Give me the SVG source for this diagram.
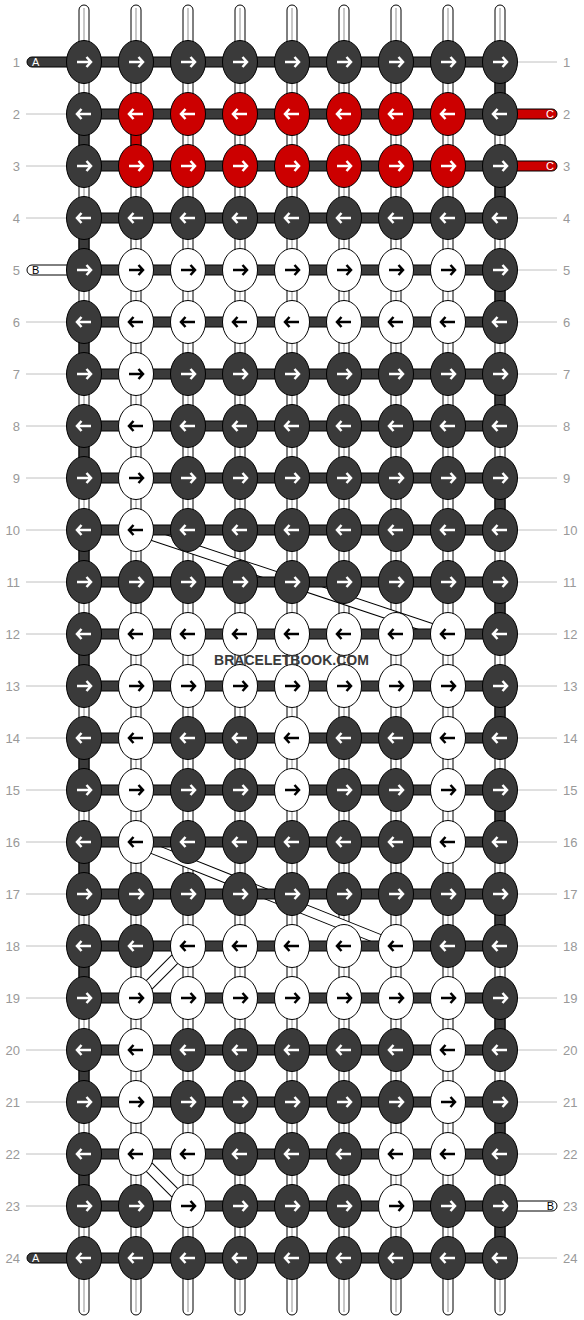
<svg xmlns="http://www.w3.org/2000/svg" xmlns:xlink="http://www.w3.org/1999/xlink" width="584" height="1320" viewBox="0 0 584 1320">
<style>
.vw{fill:#fff;stroke:#000;stroke-width:1}
.vc{stroke:#c8c8c8;stroke-width:2}
.vd{fill:#3a3a3a;stroke:#000;stroke-width:1}
.vr{fill:#cc0000;stroke:#000;stroke-width:1}
.hd{fill:#3a3a3a;stroke:#000;stroke-width:1}
.dgo{stroke:#000;stroke-width:11;stroke-linecap:butt}
.dgi{stroke:#fff;stroke-width:9;stroke-linecap:butt}
.gl{stroke:#c0c0c0;stroke-width:1}
.num{font-family:"Liberation Sans",Arial,sans-serif;font-size:13px;fill:#999}
.lab{font-family:"Liberation Sans",Arial,sans-serif;font-size:11px}
.D{fill:#3a3a3a;stroke:#fff}
.Rd{fill:#cc0000;stroke:#fff}
.W{fill:#fff;stroke:#000}
.wm{font-family:"Liberation Sans",Arial,sans-serif;font-size:14px;font-weight:bold;fill:#3a3a3a}
</style>
<defs>
<ellipse id="e" rx="17.5" ry="21.5" stroke="#000" stroke-width="1"/>
<path id="R" d="M-7 0H7M2.5-5L7 0L2.5 5" fill="none" stroke-width="2.5"/>
<path id="L" d="M7 0H-7M-2.5-5L-7 0L-2.5 5" fill="none" stroke-width="2.5"/>
</defs>
<rect width="584" height="1320" fill="#fff"/>
<g id="guides">
<line class="gl" x1="26" y1="114" x2="84" y2="114"/><line class="gl" x1="26" y1="166" x2="84" y2="166"/><line class="gl" x1="26" y1="218" x2="84" y2="218"/><line class="gl" x1="26" y1="322" x2="84" y2="322"/><line class="gl" x1="26" y1="374" x2="84" y2="374"/><line class="gl" x1="26" y1="426" x2="84" y2="426"/><line class="gl" x1="26" y1="478" x2="84" y2="478"/><line class="gl" x1="26" y1="530" x2="84" y2="530"/><line class="gl" x1="26" y1="582" x2="84" y2="582"/><line class="gl" x1="26" y1="634" x2="84" y2="634"/><line class="gl" x1="26" y1="686" x2="84" y2="686"/><line class="gl" x1="26" y1="738" x2="84" y2="738"/><line class="gl" x1="26" y1="790" x2="84" y2="790"/><line class="gl" x1="26" y1="842" x2="84" y2="842"/><line class="gl" x1="26" y1="894" x2="84" y2="894"/><line class="gl" x1="26" y1="946" x2="84" y2="946"/><line class="gl" x1="26" y1="998" x2="84" y2="998"/><line class="gl" x1="26" y1="1050" x2="84" y2="1050"/><line class="gl" x1="26" y1="1102" x2="84" y2="1102"/><line class="gl" x1="26" y1="1154" x2="84" y2="1154"/><line class="gl" x1="26" y1="1206" x2="84" y2="1206"/>
<line class="gl" x1="500" y1="62" x2="557" y2="62"/><line class="gl" x1="500" y1="218" x2="557" y2="218"/><line class="gl" x1="500" y1="270" x2="557" y2="270"/><line class="gl" x1="500" y1="322" x2="557" y2="322"/><line class="gl" x1="500" y1="374" x2="557" y2="374"/><line class="gl" x1="500" y1="426" x2="557" y2="426"/><line class="gl" x1="500" y1="478" x2="557" y2="478"/><line class="gl" x1="500" y1="530" x2="557" y2="530"/><line class="gl" x1="500" y1="582" x2="557" y2="582"/><line class="gl" x1="500" y1="634" x2="557" y2="634"/><line class="gl" x1="500" y1="686" x2="557" y2="686"/><line class="gl" x1="500" y1="738" x2="557" y2="738"/><line class="gl" x1="500" y1="790" x2="557" y2="790"/><line class="gl" x1="500" y1="842" x2="557" y2="842"/><line class="gl" x1="500" y1="894" x2="557" y2="894"/><line class="gl" x1="500" y1="946" x2="557" y2="946"/><line class="gl" x1="500" y1="998" x2="557" y2="998"/><line class="gl" x1="500" y1="1050" x2="557" y2="1050"/><line class="gl" x1="500" y1="1102" x2="557" y2="1102"/><line class="gl" x1="500" y1="1154" x2="557" y2="1154"/><line class="gl" x1="500" y1="1258" x2="557" y2="1258"/>
</g>
<g id="rownumbers">
<g class="num" text-anchor="end">
<text x="20" y="66.5">1</text><text x="20" y="118.5">2</text><text x="20" y="170.5">3</text><text x="20" y="222.5">4</text><text x="20" y="274.5">5</text><text x="20" y="326.5">6</text><text x="20" y="378.5">7</text><text x="20" y="430.5">8</text><text x="20" y="482.5">9</text><text x="20" y="534.5">10</text><text x="20" y="586.5">11</text><text x="20" y="638.5">12</text><text x="20" y="690.5">13</text><text x="20" y="742.5">14</text><text x="20" y="794.5">15</text><text x="20" y="846.5">16</text><text x="20" y="898.5">17</text><text x="20" y="950.5">18</text><text x="20" y="1002.5">19</text><text x="20" y="1054.5">20</text><text x="20" y="1106.5">21</text><text x="20" y="1158.5">22</text><text x="20" y="1210.5">23</text><text x="20" y="1262.5">24</text>
</g>
<g class="num">
<text x="563" y="66.5">1</text><text x="563" y="118.5">2</text><text x="563" y="170.5">3</text><text x="563" y="222.5">4</text><text x="563" y="274.5">5</text><text x="563" y="326.5">6</text><text x="563" y="378.5">7</text><text x="563" y="430.5">8</text><text x="563" y="482.5">9</text><text x="563" y="534.5">10</text><text x="563" y="586.5">11</text><text x="563" y="638.5">12</text><text x="563" y="690.5">13</text><text x="563" y="742.5">14</text><text x="563" y="794.5">15</text><text x="563" y="846.5">16</text><text x="563" y="898.5">17</text><text x="563" y="950.5">18</text><text x="563" y="1002.5">19</text><text x="563" y="1054.5">20</text><text x="563" y="1106.5">21</text><text x="563" y="1158.5">22</text><text x="563" y="1210.5">23</text><text x="563" y="1262.5">24</text>
</g>
</g>
<g id="connectors">
<g id="verticals">
<rect class="vw" x="79" y="5" width="10" height="1310" rx="5"/><line class="vc" x1="84" y1="8" x2="84" y2="1312"/>
<rect class="vw" x="131" y="5" width="10" height="1310" rx="5"/><line class="vc" x1="136" y1="8" x2="136" y2="1312"/>
<rect class="vw" x="183" y="5" width="10" height="1310" rx="5"/><line class="vc" x1="188" y1="8" x2="188" y2="1312"/>
<rect class="vw" x="235" y="5" width="10" height="1310" rx="5"/><line class="vc" x1="240" y1="8" x2="240" y2="1312"/>
<rect class="vw" x="287" y="5" width="10" height="1310" rx="5"/><line class="vc" x1="292" y1="8" x2="292" y2="1312"/>
<rect class="vw" x="339" y="5" width="10" height="1310" rx="5"/><line class="vc" x1="344" y1="8" x2="344" y2="1312"/>
<rect class="vw" x="391" y="5" width="10" height="1310" rx="5"/><line class="vc" x1="396" y1="8" x2="396" y2="1312"/>
<rect class="vw" x="443" y="5" width="10" height="1310" rx="5"/><line class="vc" x1="448" y1="8" x2="448" y2="1312"/>
<rect class="vw" x="495" y="5" width="10" height="1310" rx="5"/><line class="vc" x1="500" y1="8" x2="500" y2="1312"/>
</g>
<g id="edge-segments">
<rect class="vd" x="79" y="114" width="10" height="52"/><rect class="vd" x="79" y="218" width="10" height="52"/><rect class="vd" x="79" y="322" width="10" height="52"/><rect class="vd" x="79" y="426" width="10" height="52"/><rect class="vd" x="79" y="530" width="10" height="52"/><rect class="vd" x="79" y="634" width="10" height="52"/><rect class="vd" x="79" y="738" width="10" height="52"/><rect class="vd" x="79" y="842" width="10" height="52"/><rect class="vd" x="79" y="946" width="10" height="52"/><rect class="vd" x="79" y="1050" width="10" height="52"/><rect class="vd" x="79" y="1154" width="10" height="52"/>
<rect class="vd" x="495" y="62" width="10" height="52"/><rect class="vd" x="495" y="166" width="10" height="52"/><rect class="vd" x="495" y="270" width="10" height="52"/><rect class="vd" x="495" y="374" width="10" height="52"/><rect class="vd" x="495" y="478" width="10" height="52"/><rect class="vd" x="495" y="582" width="10" height="52"/><rect class="vd" x="495" y="686" width="10" height="52"/><rect class="vd" x="495" y="790" width="10" height="52"/><rect class="vd" x="495" y="894" width="10" height="52"/><rect class="vd" x="495" y="998" width="10" height="52"/><rect class="vd" x="495" y="1102" width="10" height="52"/><rect class="vd" x="495" y="1206" width="10" height="52"/>
<rect class="vr" x="131" y="114" width="10" height="52"/>
</g>
<g id="diagonals">
<line class="dgo" x1="136" y1="530" x2="448" y2="634"/><line class="dgi" x1="136" y1="530" x2="448" y2="634"/>
<line class="dgo" x1="136" y1="842" x2="396" y2="946"/><line class="dgi" x1="136" y1="842" x2="396" y2="946"/>
<line class="dgo" x1="188" y1="946" x2="136" y2="998"/><line class="dgi" x1="188" y1="946" x2="136" y2="998"/>
<line class="dgo" x1="136" y1="1154" x2="188" y2="1206"/><line class="dgi" x1="136" y1="1154" x2="188" y2="1206"/>
</g>
<g id="horizontals">
<rect class="hd" x="84" y="57" width="416" height="10"/><rect class="hd" x="84" y="109" width="416" height="10"/><rect class="hd" x="84" y="161" width="416" height="10"/><rect class="hd" x="84" y="213" width="416" height="10"/><rect class="hd" x="84" y="265" width="416" height="10"/><rect class="hd" x="84" y="317" width="416" height="10"/><rect class="hd" x="84" y="369" width="416" height="10"/><rect class="hd" x="84" y="421" width="416" height="10"/><rect class="hd" x="84" y="473" width="416" height="10"/><rect class="hd" x="84" y="525" width="416" height="10"/><rect class="hd" x="84" y="577" width="416" height="10"/><rect class="hd" x="84" y="629" width="416" height="10"/><rect class="hd" x="84" y="681" width="416" height="10"/><rect class="hd" x="84" y="733" width="416" height="10"/><rect class="hd" x="84" y="785" width="416" height="10"/><rect class="hd" x="84" y="837" width="416" height="10"/><rect class="hd" x="84" y="889" width="416" height="10"/><rect class="hd" x="84" y="941" width="416" height="10"/><rect class="hd" x="84" y="993" width="416" height="10"/><rect class="hd" x="84" y="1045" width="416" height="10"/><rect class="hd" x="84" y="1097" width="416" height="10"/><rect class="hd" x="84" y="1149" width="416" height="10"/><rect class="hd" x="84" y="1201" width="416" height="10"/><rect class="hd" x="84" y="1253" width="416" height="10"/>
</g>
<g id="leads">
<g id="leadA1"><rect class="hd" x="27" y="57" width="60" height="10" rx="5"/><text class="lab" x="32" y="66" fill="#fff">A</text></g>
<g id="leadB5"><rect class="vw" x="27" y="265" width="60" height="10" rx="5"/><text class="lab" x="32" y="274" fill="#000">B</text></g>
<g id="leadA24"><rect class="hd" x="27" y="1253" width="60" height="10" rx="5"/><text class="lab" x="32" y="1262" fill="#fff">A</text></g>
<g id="leadC2"><rect class="vr" x="497" y="109" width="60" height="10" rx="5"/><text class="lab" x="554" y="118" fill="#fff" text-anchor="end">C</text></g>
<g id="leadC3"><rect class="vr" x="497" y="161" width="60" height="10" rx="5"/><text class="lab" x="554" y="170" fill="#fff" text-anchor="end">C</text></g>
<g id="leadB23"><rect class="vw" x="497" y="1201" width="60" height="10" rx="5"/><text class="lab" x="554" y="1210" fill="#000" text-anchor="end">B</text></g>
</g>
</g>
<g id="knots">
<g id="r1"><g id="k1-1" class="D" transform="translate(84 62)"><use href="#e"/><use href="#R"/></g><g id="k1-2" class="D" transform="translate(136 62)"><use href="#e"/><use href="#R"/></g><g id="k1-3" class="D" transform="translate(188 62)"><use href="#e"/><use href="#R"/></g><g id="k1-4" class="D" transform="translate(240 62)"><use href="#e"/><use href="#R"/></g><g id="k1-5" class="D" transform="translate(292 62)"><use href="#e"/><use href="#R"/></g><g id="k1-6" class="D" transform="translate(344 62)"><use href="#e"/><use href="#R"/></g><g id="k1-7" class="D" transform="translate(396 62)"><use href="#e"/><use href="#R"/></g><g id="k1-8" class="D" transform="translate(448 62)"><use href="#e"/><use href="#R"/></g><g id="k1-9" class="D" transform="translate(500 62)"><use href="#e"/><use href="#R"/></g></g>
<g id="r2"><g id="k2-1" class="D" transform="translate(84 114)"><use href="#e"/><use href="#L"/></g><g id="k2-2" class="Rd" transform="translate(136 114)"><use href="#e"/><use href="#L"/></g><g id="k2-3" class="Rd" transform="translate(188 114)"><use href="#e"/><use href="#L"/></g><g id="k2-4" class="Rd" transform="translate(240 114)"><use href="#e"/><use href="#L"/></g><g id="k2-5" class="Rd" transform="translate(292 114)"><use href="#e"/><use href="#L"/></g><g id="k2-6" class="Rd" transform="translate(344 114)"><use href="#e"/><use href="#L"/></g><g id="k2-7" class="Rd" transform="translate(396 114)"><use href="#e"/><use href="#L"/></g><g id="k2-8" class="Rd" transform="translate(448 114)"><use href="#e"/><use href="#L"/></g><g id="k2-9" class="D" transform="translate(500 114)"><use href="#e"/><use href="#L"/></g></g>
<g id="r3"><g id="k3-1" class="D" transform="translate(84 166)"><use href="#e"/><use href="#R"/></g><g id="k3-2" class="Rd" transform="translate(136 166)"><use href="#e"/><use href="#R"/></g><g id="k3-3" class="Rd" transform="translate(188 166)"><use href="#e"/><use href="#R"/></g><g id="k3-4" class="Rd" transform="translate(240 166)"><use href="#e"/><use href="#R"/></g><g id="k3-5" class="Rd" transform="translate(292 166)"><use href="#e"/><use href="#R"/></g><g id="k3-6" class="Rd" transform="translate(344 166)"><use href="#e"/><use href="#R"/></g><g id="k3-7" class="Rd" transform="translate(396 166)"><use href="#e"/><use href="#R"/></g><g id="k3-8" class="Rd" transform="translate(448 166)"><use href="#e"/><use href="#R"/></g><g id="k3-9" class="D" transform="translate(500 166)"><use href="#e"/><use href="#R"/></g></g>
<g id="r4"><g id="k4-1" class="D" transform="translate(84 218)"><use href="#e"/><use href="#L"/></g><g id="k4-2" class="D" transform="translate(136 218)"><use href="#e"/><use href="#L"/></g><g id="k4-3" class="D" transform="translate(188 218)"><use href="#e"/><use href="#L"/></g><g id="k4-4" class="D" transform="translate(240 218)"><use href="#e"/><use href="#L"/></g><g id="k4-5" class="D" transform="translate(292 218)"><use href="#e"/><use href="#L"/></g><g id="k4-6" class="D" transform="translate(344 218)"><use href="#e"/><use href="#L"/></g><g id="k4-7" class="D" transform="translate(396 218)"><use href="#e"/><use href="#L"/></g><g id="k4-8" class="D" transform="translate(448 218)"><use href="#e"/><use href="#L"/></g><g id="k4-9" class="D" transform="translate(500 218)"><use href="#e"/><use href="#L"/></g></g>
<g id="r5"><g id="k5-1" class="D" transform="translate(84 270)"><use href="#e"/><use href="#R"/></g><g id="k5-2" class="W" transform="translate(136 270)"><use href="#e"/><use href="#R"/></g><g id="k5-3" class="W" transform="translate(188 270)"><use href="#e"/><use href="#R"/></g><g id="k5-4" class="W" transform="translate(240 270)"><use href="#e"/><use href="#R"/></g><g id="k5-5" class="W" transform="translate(292 270)"><use href="#e"/><use href="#R"/></g><g id="k5-6" class="W" transform="translate(344 270)"><use href="#e"/><use href="#R"/></g><g id="k5-7" class="W" transform="translate(396 270)"><use href="#e"/><use href="#R"/></g><g id="k5-8" class="W" transform="translate(448 270)"><use href="#e"/><use href="#R"/></g><g id="k5-9" class="D" transform="translate(500 270)"><use href="#e"/><use href="#R"/></g></g>
<g id="r6"><g id="k6-1" class="D" transform="translate(84 322)"><use href="#e"/><use href="#L"/></g><g id="k6-2" class="W" transform="translate(136 322)"><use href="#e"/><use href="#L"/></g><g id="k6-3" class="W" transform="translate(188 322)"><use href="#e"/><use href="#L"/></g><g id="k6-4" class="W" transform="translate(240 322)"><use href="#e"/><use href="#L"/></g><g id="k6-5" class="W" transform="translate(292 322)"><use href="#e"/><use href="#L"/></g><g id="k6-6" class="W" transform="translate(344 322)"><use href="#e"/><use href="#L"/></g><g id="k6-7" class="W" transform="translate(396 322)"><use href="#e"/><use href="#L"/></g><g id="k6-8" class="W" transform="translate(448 322)"><use href="#e"/><use href="#L"/></g><g id="k6-9" class="D" transform="translate(500 322)"><use href="#e"/><use href="#L"/></g></g>
<g id="r7"><g id="k7-1" class="D" transform="translate(84 374)"><use href="#e"/><use href="#R"/></g><g id="k7-2" class="W" transform="translate(136 374)"><use href="#e"/><use href="#R"/></g><g id="k7-3" class="D" transform="translate(188 374)"><use href="#e"/><use href="#R"/></g><g id="k7-4" class="D" transform="translate(240 374)"><use href="#e"/><use href="#R"/></g><g id="k7-5" class="D" transform="translate(292 374)"><use href="#e"/><use href="#R"/></g><g id="k7-6" class="D" transform="translate(344 374)"><use href="#e"/><use href="#R"/></g><g id="k7-7" class="D" transform="translate(396 374)"><use href="#e"/><use href="#R"/></g><g id="k7-8" class="D" transform="translate(448 374)"><use href="#e"/><use href="#R"/></g><g id="k7-9" class="D" transform="translate(500 374)"><use href="#e"/><use href="#R"/></g></g>
<g id="r8"><g id="k8-1" class="D" transform="translate(84 426)"><use href="#e"/><use href="#L"/></g><g id="k8-2" class="W" transform="translate(136 426)"><use href="#e"/><use href="#L"/></g><g id="k8-3" class="D" transform="translate(188 426)"><use href="#e"/><use href="#L"/></g><g id="k8-4" class="D" transform="translate(240 426)"><use href="#e"/><use href="#L"/></g><g id="k8-5" class="D" transform="translate(292 426)"><use href="#e"/><use href="#L"/></g><g id="k8-6" class="D" transform="translate(344 426)"><use href="#e"/><use href="#L"/></g><g id="k8-7" class="D" transform="translate(396 426)"><use href="#e"/><use href="#L"/></g><g id="k8-8" class="D" transform="translate(448 426)"><use href="#e"/><use href="#L"/></g><g id="k8-9" class="D" transform="translate(500 426)"><use href="#e"/><use href="#L"/></g></g>
<g id="r9"><g id="k9-1" class="D" transform="translate(84 478)"><use href="#e"/><use href="#R"/></g><g id="k9-2" class="W" transform="translate(136 478)"><use href="#e"/><use href="#R"/></g><g id="k9-3" class="D" transform="translate(188 478)"><use href="#e"/><use href="#R"/></g><g id="k9-4" class="D" transform="translate(240 478)"><use href="#e"/><use href="#R"/></g><g id="k9-5" class="D" transform="translate(292 478)"><use href="#e"/><use href="#R"/></g><g id="k9-6" class="D" transform="translate(344 478)"><use href="#e"/><use href="#R"/></g><g id="k9-7" class="D" transform="translate(396 478)"><use href="#e"/><use href="#R"/></g><g id="k9-8" class="D" transform="translate(448 478)"><use href="#e"/><use href="#R"/></g><g id="k9-9" class="D" transform="translate(500 478)"><use href="#e"/><use href="#R"/></g></g>
<g id="r10"><g id="k10-1" class="D" transform="translate(84 530)"><use href="#e"/><use href="#L"/></g><g id="k10-2" class="W" transform="translate(136 530)"><use href="#e"/><use href="#L"/></g><g id="k10-3" class="D" transform="translate(188 530)"><use href="#e"/><use href="#L"/></g><g id="k10-4" class="D" transform="translate(240 530)"><use href="#e"/><use href="#L"/></g><g id="k10-5" class="D" transform="translate(292 530)"><use href="#e"/><use href="#L"/></g><g id="k10-6" class="D" transform="translate(344 530)"><use href="#e"/><use href="#L"/></g><g id="k10-7" class="D" transform="translate(396 530)"><use href="#e"/><use href="#L"/></g><g id="k10-8" class="D" transform="translate(448 530)"><use href="#e"/><use href="#L"/></g><g id="k10-9" class="D" transform="translate(500 530)"><use href="#e"/><use href="#L"/></g></g>
<g id="r11"><g id="k11-1" class="D" transform="translate(84 582)"><use href="#e"/><use href="#R"/></g><g id="k11-2" class="D" transform="translate(136 582)"><use href="#e"/><use href="#R"/></g><g id="k11-3" class="D" transform="translate(188 582)"><use href="#e"/><use href="#R"/></g><g id="k11-4" class="D" transform="translate(240 582)"><use href="#e"/><use href="#R"/></g><g id="k11-5" class="D" transform="translate(292 582)"><use href="#e"/><use href="#R"/></g><g id="k11-6" class="D" transform="translate(344 582)"><use href="#e"/><use href="#R"/></g><g id="k11-7" class="D" transform="translate(396 582)"><use href="#e"/><use href="#R"/></g><g id="k11-8" class="D" transform="translate(448 582)"><use href="#e"/><use href="#R"/></g><g id="k11-9" class="D" transform="translate(500 582)"><use href="#e"/><use href="#R"/></g></g>
<g id="r12"><g id="k12-1" class="D" transform="translate(84 634)"><use href="#e"/><use href="#L"/></g><g id="k12-2" class="W" transform="translate(136 634)"><use href="#e"/><use href="#L"/></g><g id="k12-3" class="W" transform="translate(188 634)"><use href="#e"/><use href="#L"/></g><g id="k12-4" class="W" transform="translate(240 634)"><use href="#e"/><use href="#L"/></g><g id="k12-5" class="W" transform="translate(292 634)"><use href="#e"/><use href="#L"/></g><g id="k12-6" class="W" transform="translate(344 634)"><use href="#e"/><use href="#L"/></g><g id="k12-7" class="W" transform="translate(396 634)"><use href="#e"/><use href="#L"/></g><g id="k12-8" class="W" transform="translate(448 634)"><use href="#e"/><use href="#L"/></g><g id="k12-9" class="D" transform="translate(500 634)"><use href="#e"/><use href="#L"/></g></g>
<g id="r13"><g id="k13-1" class="D" transform="translate(84 686)"><use href="#e"/><use href="#R"/></g><g id="k13-2" class="W" transform="translate(136 686)"><use href="#e"/><use href="#R"/></g><g id="k13-3" class="W" transform="translate(188 686)"><use href="#e"/><use href="#R"/></g><g id="k13-4" class="W" transform="translate(240 686)"><use href="#e"/><use href="#R"/></g><g id="k13-5" class="W" transform="translate(292 686)"><use href="#e"/><use href="#R"/></g><g id="k13-6" class="W" transform="translate(344 686)"><use href="#e"/><use href="#R"/></g><g id="k13-7" class="W" transform="translate(396 686)"><use href="#e"/><use href="#R"/></g><g id="k13-8" class="W" transform="translate(448 686)"><use href="#e"/><use href="#R"/></g><g id="k13-9" class="D" transform="translate(500 686)"><use href="#e"/><use href="#R"/></g></g>
<g id="r14"><g id="k14-1" class="D" transform="translate(84 738)"><use href="#e"/><use href="#L"/></g><g id="k14-2" class="W" transform="translate(136 738)"><use href="#e"/><use href="#L"/></g><g id="k14-3" class="D" transform="translate(188 738)"><use href="#e"/><use href="#L"/></g><g id="k14-4" class="D" transform="translate(240 738)"><use href="#e"/><use href="#L"/></g><g id="k14-5" class="W" transform="translate(292 738)"><use href="#e"/><use href="#L"/></g><g id="k14-6" class="D" transform="translate(344 738)"><use href="#e"/><use href="#L"/></g><g id="k14-7" class="D" transform="translate(396 738)"><use href="#e"/><use href="#L"/></g><g id="k14-8" class="W" transform="translate(448 738)"><use href="#e"/><use href="#L"/></g><g id="k14-9" class="D" transform="translate(500 738)"><use href="#e"/><use href="#L"/></g></g>
<g id="r15"><g id="k15-1" class="D" transform="translate(84 790)"><use href="#e"/><use href="#R"/></g><g id="k15-2" class="W" transform="translate(136 790)"><use href="#e"/><use href="#R"/></g><g id="k15-3" class="D" transform="translate(188 790)"><use href="#e"/><use href="#R"/></g><g id="k15-4" class="D" transform="translate(240 790)"><use href="#e"/><use href="#R"/></g><g id="k15-5" class="W" transform="translate(292 790)"><use href="#e"/><use href="#R"/></g><g id="k15-6" class="D" transform="translate(344 790)"><use href="#e"/><use href="#R"/></g><g id="k15-7" class="D" transform="translate(396 790)"><use href="#e"/><use href="#R"/></g><g id="k15-8" class="W" transform="translate(448 790)"><use href="#e"/><use href="#R"/></g><g id="k15-9" class="D" transform="translate(500 790)"><use href="#e"/><use href="#R"/></g></g>
<g id="r16"><g id="k16-1" class="D" transform="translate(84 842)"><use href="#e"/><use href="#L"/></g><g id="k16-2" class="W" transform="translate(136 842)"><use href="#e"/><use href="#L"/></g><g id="k16-3" class="D" transform="translate(188 842)"><use href="#e"/><use href="#L"/></g><g id="k16-4" class="D" transform="translate(240 842)"><use href="#e"/><use href="#L"/></g><g id="k16-5" class="D" transform="translate(292 842)"><use href="#e"/><use href="#L"/></g><g id="k16-6" class="D" transform="translate(344 842)"><use href="#e"/><use href="#L"/></g><g id="k16-7" class="D" transform="translate(396 842)"><use href="#e"/><use href="#L"/></g><g id="k16-8" class="W" transform="translate(448 842)"><use href="#e"/><use href="#L"/></g><g id="k16-9" class="D" transform="translate(500 842)"><use href="#e"/><use href="#L"/></g></g>
<g id="r17"><g id="k17-1" class="D" transform="translate(84 894)"><use href="#e"/><use href="#R"/></g><g id="k17-2" class="D" transform="translate(136 894)"><use href="#e"/><use href="#R"/></g><g id="k17-3" class="D" transform="translate(188 894)"><use href="#e"/><use href="#R"/></g><g id="k17-4" class="D" transform="translate(240 894)"><use href="#e"/><use href="#R"/></g><g id="k17-5" class="D" transform="translate(292 894)"><use href="#e"/><use href="#R"/></g><g id="k17-6" class="D" transform="translate(344 894)"><use href="#e"/><use href="#R"/></g><g id="k17-7" class="D" transform="translate(396 894)"><use href="#e"/><use href="#R"/></g><g id="k17-8" class="D" transform="translate(448 894)"><use href="#e"/><use href="#R"/></g><g id="k17-9" class="D" transform="translate(500 894)"><use href="#e"/><use href="#R"/></g></g>
<g id="r18"><g id="k18-1" class="D" transform="translate(84 946)"><use href="#e"/><use href="#L"/></g><g id="k18-2" class="D" transform="translate(136 946)"><use href="#e"/><use href="#L"/></g><g id="k18-3" class="W" transform="translate(188 946)"><use href="#e"/><use href="#L"/></g><g id="k18-4" class="W" transform="translate(240 946)"><use href="#e"/><use href="#L"/></g><g id="k18-5" class="W" transform="translate(292 946)"><use href="#e"/><use href="#L"/></g><g id="k18-6" class="W" transform="translate(344 946)"><use href="#e"/><use href="#L"/></g><g id="k18-7" class="W" transform="translate(396 946)"><use href="#e"/><use href="#L"/></g><g id="k18-8" class="D" transform="translate(448 946)"><use href="#e"/><use href="#L"/></g><g id="k18-9" class="D" transform="translate(500 946)"><use href="#e"/><use href="#L"/></g></g>
<g id="r19"><g id="k19-1" class="D" transform="translate(84 998)"><use href="#e"/><use href="#R"/></g><g id="k19-2" class="W" transform="translate(136 998)"><use href="#e"/><use href="#R"/></g><g id="k19-3" class="W" transform="translate(188 998)"><use href="#e"/><use href="#R"/></g><g id="k19-4" class="W" transform="translate(240 998)"><use href="#e"/><use href="#R"/></g><g id="k19-5" class="W" transform="translate(292 998)"><use href="#e"/><use href="#R"/></g><g id="k19-6" class="W" transform="translate(344 998)"><use href="#e"/><use href="#R"/></g><g id="k19-7" class="W" transform="translate(396 998)"><use href="#e"/><use href="#R"/></g><g id="k19-8" class="W" transform="translate(448 998)"><use href="#e"/><use href="#R"/></g><g id="k19-9" class="D" transform="translate(500 998)"><use href="#e"/><use href="#R"/></g></g>
<g id="r20"><g id="k20-1" class="D" transform="translate(84 1050)"><use href="#e"/><use href="#L"/></g><g id="k20-2" class="W" transform="translate(136 1050)"><use href="#e"/><use href="#L"/></g><g id="k20-3" class="D" transform="translate(188 1050)"><use href="#e"/><use href="#L"/></g><g id="k20-4" class="D" transform="translate(240 1050)"><use href="#e"/><use href="#L"/></g><g id="k20-5" class="D" transform="translate(292 1050)"><use href="#e"/><use href="#L"/></g><g id="k20-6" class="D" transform="translate(344 1050)"><use href="#e"/><use href="#L"/></g><g id="k20-7" class="D" transform="translate(396 1050)"><use href="#e"/><use href="#L"/></g><g id="k20-8" class="W" transform="translate(448 1050)"><use href="#e"/><use href="#L"/></g><g id="k20-9" class="D" transform="translate(500 1050)"><use href="#e"/><use href="#L"/></g></g>
<g id="r21"><g id="k21-1" class="D" transform="translate(84 1102)"><use href="#e"/><use href="#R"/></g><g id="k21-2" class="W" transform="translate(136 1102)"><use href="#e"/><use href="#R"/></g><g id="k21-3" class="D" transform="translate(188 1102)"><use href="#e"/><use href="#R"/></g><g id="k21-4" class="D" transform="translate(240 1102)"><use href="#e"/><use href="#R"/></g><g id="k21-5" class="D" transform="translate(292 1102)"><use href="#e"/><use href="#R"/></g><g id="k21-6" class="D" transform="translate(344 1102)"><use href="#e"/><use href="#R"/></g><g id="k21-7" class="D" transform="translate(396 1102)"><use href="#e"/><use href="#R"/></g><g id="k21-8" class="W" transform="translate(448 1102)"><use href="#e"/><use href="#R"/></g><g id="k21-9" class="D" transform="translate(500 1102)"><use href="#e"/><use href="#R"/></g></g>
<g id="r22"><g id="k22-1" class="D" transform="translate(84 1154)"><use href="#e"/><use href="#L"/></g><g id="k22-2" class="W" transform="translate(136 1154)"><use href="#e"/><use href="#L"/></g><g id="k22-3" class="W" transform="translate(188 1154)"><use href="#e"/><use href="#L"/></g><g id="k22-4" class="D" transform="translate(240 1154)"><use href="#e"/><use href="#L"/></g><g id="k22-5" class="D" transform="translate(292 1154)"><use href="#e"/><use href="#L"/></g><g id="k22-6" class="D" transform="translate(344 1154)"><use href="#e"/><use href="#L"/></g><g id="k22-7" class="W" transform="translate(396 1154)"><use href="#e"/><use href="#L"/></g><g id="k22-8" class="W" transform="translate(448 1154)"><use href="#e"/><use href="#L"/></g><g id="k22-9" class="D" transform="translate(500 1154)"><use href="#e"/><use href="#L"/></g></g>
<g id="r23"><g id="k23-1" class="D" transform="translate(84 1206)"><use href="#e"/><use href="#R"/></g><g id="k23-2" class="D" transform="translate(136 1206)"><use href="#e"/><use href="#R"/></g><g id="k23-3" class="W" transform="translate(188 1206)"><use href="#e"/><use href="#R"/></g><g id="k23-4" class="D" transform="translate(240 1206)"><use href="#e"/><use href="#R"/></g><g id="k23-5" class="D" transform="translate(292 1206)"><use href="#e"/><use href="#R"/></g><g id="k23-6" class="D" transform="translate(344 1206)"><use href="#e"/><use href="#R"/></g><g id="k23-7" class="W" transform="translate(396 1206)"><use href="#e"/><use href="#R"/></g><g id="k23-8" class="D" transform="translate(448 1206)"><use href="#e"/><use href="#R"/></g><g id="k23-9" class="D" transform="translate(500 1206)"><use href="#e"/><use href="#R"/></g></g>
<g id="r24"><g id="k24-1" class="D" transform="translate(84 1258)"><use href="#e"/><use href="#L"/></g><g id="k24-2" class="D" transform="translate(136 1258)"><use href="#e"/><use href="#L"/></g><g id="k24-3" class="D" transform="translate(188 1258)"><use href="#e"/><use href="#L"/></g><g id="k24-4" class="D" transform="translate(240 1258)"><use href="#e"/><use href="#L"/></g><g id="k24-5" class="D" transform="translate(292 1258)"><use href="#e"/><use href="#L"/></g><g id="k24-6" class="D" transform="translate(344 1258)"><use href="#e"/><use href="#L"/></g><g id="k24-7" class="D" transform="translate(396 1258)"><use href="#e"/><use href="#L"/></g><g id="k24-8" class="D" transform="translate(448 1258)"><use href="#e"/><use href="#L"/></g><g id="k24-9" class="D" transform="translate(500 1258)"><use href="#e"/><use href="#L"/></g></g>
</g>
<text id="watermark" class="wm" x="291.5" y="665" text-anchor="middle">BRACELETBOOK.COM</text>
</svg>
